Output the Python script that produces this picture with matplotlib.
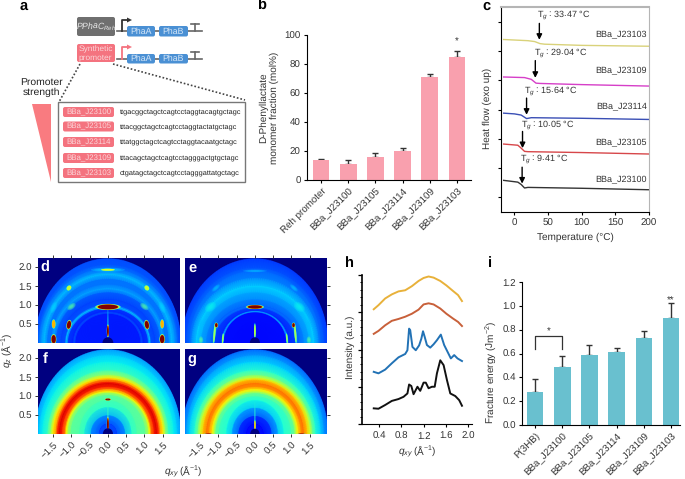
# -*- coding: utf-8 -*-
import numpy as np
import matplotlib
matplotlib.use("Agg")
import matplotlib.pyplot as plt
from matplotlib.patches import Ellipse, FancyBboxPatch, Polygon, Rectangle

plt.rcParams['font.family'] = ['Liberation Sans', 'DejaVu Sans']
plt.rcParams['text.hinting'] = 'no_hinting'
plt.rcParams['mathtext.fontset'] = 'custom'
plt.rcParams['mathtext.rm'] = 'Liberation Sans'
plt.rcParams['mathtext.it'] = 'Liberation Sans:italic'
plt.rcParams['mathtext.bf'] = 'Liberation Sans:bold'

# ---------- data ----------
promoters = ['BBa_J23100', 'BBa_J23105', 'BBa_J23114', 'BBa_J23109', 'BBa_J23103']
sequences = ['ttgacggctagctcagtcctaggtacagtgctagc',
             'tttacggctagctcagtcctaggtactatgctagc',
             'tttatggctagctcagtcctaggtacaatgctagc',
             'tttacagctagctcagtcctagggactgtgctagc',
             'ctgatagctagctcagtcctagggattatgctagc']

b_labels = ['Reh promoter'] + promoters
b_values = [14, 11, 16, 20, 71, 84.5]
b_errors = [0.5, 2.5, 2.5, 2, 2, 4.5]

i_labels = ['P(3HB)', 'BBa_J23100', 'BBa_J23105', 'BBa_J23114', 'BBa_J23109', 'BBa_J23103']
i_values = [0.28, 0.49, 0.59, 0.61, 0.73, 0.90]
i_errors = [0.11, 0.09, 0.08, 0.04, 0.06, 0.12]

# DSC curves
c_t103 = [-16, 20, 30, 38, 45, 100, 200]
c_y103 = [5.89, 5.85, 5.82, 5.75, 5.73, 5.69, 5.66]
c_t109 = [-16, 15, 25, 32, 38, 100, 200]
c_y109 = [4.61, 4.59, 4.53, 4.40, 4.39, 4.35, 4.30]
c_t114 = [-16, 0, 10, 18, 25, 100, 200]
c_y114 = [3.375, 3.35, 3.31, 3.19, 3.22, 3.20, 3.16]
c_t105 = [-16, 5, 10, 15, 20, 100, 200]
c_y105 = [2.32, 2.28, 2.18, 2.07, 2.06, 2.03, 1.98]
c_t100 = [-16, 5, 10, 15, 20, 100, 200]
c_y100 = [1.08, 1.02, 0.94, 0.82, 0.84, 0.81, 0.76]
tg_texts = ['33.47', '29.04', '15.64', '10.05', '9.41']
tg_text_x = [33.6, 28.6, 14.8, 9.4, 8.4]
tg_text_y = [6.73, 5.45, 4.15, 2.98, 1.81]
tg_arrow_x = [37, 31, 18, 12, 11.4]
tg_arrow_top = [6.44, 5.17, 3.89, 2.75, 1.53]
tg_arrow_tip = [5.88, 4.58, 3.32, 2.18, 0.97]
c_label_y = [6.06, 4.82, 3.58, 2.35, 1.10]

# GIWAXS line cuts
h_q_smooth = [.305, .39, .51, .63, .75, .87, .99, 1.11, 1.2, 1.29, 1.38, 1.5, 1.61, 1.73, 1.82, 1.89]
h_yellow = [3.08, 3.19, 3.37, 3.48, 3.56, 3.59, 3.70, 3.84, 3.92, 3.96, 3.93, 3.84, 3.72, 3.57, 3.46, 3.30]
h_red = [2.42, 2.50, 2.65, 2.77, 2.82, 2.88, 2.96, 3.07, 3.21, 3.24, 3.21, 3.10, 2.96, 2.83, 2.74, 2.63]
h_q_blue = [.305, .39, .51, .63, .75, .87, .91, .94, .96, 1.0, 1.06, 1.12, 1.16, 1.19, 1.22, 1.26, 1.32,
            1.38, 1.44, 1.51, 1.57, 1.63, 1.69, 1.75, 1.81, 1.89]
h_blue = [1.40, 1.36, 1.46, 1.63, 1.79, 1.88, 1.98, 2.56, 2.52, 2.07, 1.98, 2.11, 2.29, 2.49, 2.34, 2.12, 2.05,
          2.14, 2.25, 2.40, 2.12, 1.94, 1.76, 1.85, 1.76, 1.69]
h_q_black = [.305, .39, .51, .63, .75, .84, .91, .94, .98, 1.02, 1.09, 1.14, 1.2, 1.24, 1.29, 1.35, 1.4,
             1.44, 1.5, 1.56, 1.62, 1.68, 1.77, 1.84, 1.89]
h_black = [.42, .41, .51, .62, .67, .73, .82, 1.06, 1.02, .80, 1.0, .89, 1.11, 1.11, .96, 1.0, 1.0,
           1.36, 1.71, 1.58, 1.18, .82, .75, .64, .49]

# 2D patterns: ring half-widths along q_xy and q_z, with the colour-scale level of each ring
d_rx = [2.01, 1.99, 1.93, 1.88, 1.82, 1.74, 1.65, 1.56, 1.50, 1.42, 1.28, 1.17, 1.14, 1.08, .96, .92, .87, 0]
d_rz = [2.23, 2.21, 2.06, 1.95, 1.86, 1.80, 1.67, 1.54, 1.42, 1.32, 1.14, 1.00, .95, .90, .83, .79, .75, 0]
d_val = [0, .20, .21, .24, .27, .31, .24, .24, .29, .22, .19, .21, .33, .18, .16, .21, .15, .15]
e_rx = [2.01, 1.99, 1.88, 1.79, 1.74, 1.60, 1.47, 1.33, 1.19, 1.14, 1.10, .92, .88, .84, 0]
e_rz = [2.23, 2.21, 1.97, 1.89, 1.71, 1.49, 1.32, 1.14, .98, .95, .91, .84, .82, .79, 0]
e_val = [0, .18, .21, .23, .25, .33, .29, .26, .22, .24, .19, .16, .31, .14, .13]
f_rx = [2.01, 1.99, 1.88, 1.79, 1.65, 1.56, 1.50, 1.42, 1.38, 1.32, 1.25, 1.17, 1.14, 1.09, 1.01, .78, .64, .46, .23, 0]
f_rz = [2.23, 2.21, 2.06, 1.89, 1.67, 1.54, 1.47, 1.42, 1.36, 1.32, 1.23, 1.17, 1.11, 1.07, 1.01, .88, .70, .48, .26, 0]
f_val = [0, .28, .33, .36, .42, .55, .66, .76, .86, .92, .87, .76, .65, .55, .47, .44, .40, .29, .18, .22]
g_rx = [2.01, 1.99, 1.88, 1.79, 1.65, 1.56, 1.50, 1.42, 1.32, 1.25, 1.17, 1.12, 1.07, .98, .78, .62, .44, .22, 0]
g_rz = [2.23, 2.21, 2.06, 1.89, 1.67, 1.54, 1.47, 1.42, 1.32, 1.23, 1.17, 1.11, 1.06, .98, .88, .68, .46, .25, 0]
g_val = [0, .23, .28, .33, .40, .50, .60, .70, .79, .75, .66, .58, .48, .43, .38, .31, .19, .12, .16]

# bright spots: x, z, width, height, angle, level (x > 0 is mirrored)
d_spots = [(0, 1.93, .78, .09, 0, .33), (0, 1.93, .36, .05, 0, .62), (1.07, 1.45, .14, .11, -45, .58),
           (1.49, .94, .12, .27, 25, .33), (1.00, .96, .22, .12, -35, .45), (1.07, .48, .11, .21, 10, 1.0),
           (1.49, .50, .09, .21, 0, .72), (1.49, .10, .12, .22, 0, 1.0), (0, .50, .03, .80, 0, .36),
           (0, .95, .56, .13, 0, 1.0), (0, .32, .05, .28, 0, 1.0), (0, 0, .30, .30, 0, 0)]
e_spots = [(0, 1.90, .55, .06, 0, .31), (1.07, 1.45, .22, .09, -40, .31), (1.22, .95, .28, .18, -35, .36),
           (1.48, .45, .10, .35, 0, .31), (1.11, .26, .05, .50, 5, .55), (.88, .12, .04, .25, 5, .55),
           (1.06, .47, .07, .11, 0, 1.0), (1.48, .08, .10, .16, 0, .45), (0, .95, .40, .09, 0, 1.0),
           (0, .32, .04, .34, 0, .60), (0, 0, .28, .30, 0, 0)]
f_spots = [(0, .91, .14, .05, 0, 1.0), (0, .55, .03, .70, 0, .42), (0, .25, .05, .34, 0, 1.0),
           (0, 0, .28, .30, 0, 0)]
g_spots = [(0, .50, .03, .60, 0, .40), (0, .22, .04, .26, 0, .72), (0, 0, .26, .28, 0, 0),
           (1.28, .01, .18, .02, 0, .95)]

W, H = 685, 479
pink_bar = '#f9a0ae'
teal_bar = '#69c0cf'
ink = '#333333'

fig = plt.figure(figsize=(W / 100, H / 100), dpi=100)


def add_ax(x0, y0, x1, y1):
    return fig.add_axes([x0 / W, 1 - y1 / H, (x1 - x0) / W, (y1 - y0) / H])


# full-figure layer in pixel units for the schematic and the loose labels
bg = fig.add_axes([0, 0, 1, 1])
bg.set_xlim(0, W)
bg.set_ylim(H, 0)
bg.axis('off')

for txt, x, y, col in [('a', 24, 6, 'k'), ('b', 262, 6, 'k'), ('c', 486, 6, 'k'), ('h', 349, 263, 'k'), ('i', 490, 263, 'k')]:
    bg.text(x, y, txt, fontsize=10.5, fontweight='bold', color=col, ha='center', va='center')


def round_box(x0, y0, x1, y1, color, r=2):
    bg.add_patch(FancyBboxPatch((x0 + r, y0 + r), x1 - x0 - 2 * r, y1 - y0 - 2 * r,
                                boxstyle='round,pad=%g,rounding_size=%g' % (r, r), fc=color, ec='none'))


# ========== a: constructs ==========
round_box(77, 17, 115, 36, '#6f6f6f')
bg.text(96, 26.5, r'$\mathit{PPhaC}_{\mathit{Reh}}$', color='#e8e8e8', fontsize=6.2, ha='center', va='center')
round_box(77, 44, 115, 62, '#f4737f')
bg.text(95.5, 53, 'Synthetic\npromoter', color='#fbd5d8', fontsize=6, ha='center', va='center', linespacing=1.05)
for yy, top, col, by0, by1 in [(31, 20, '#333333', 26, 36.5), (59, 47, '#f4737f', 54, 63.5)]:
    bg.plot([117, 202], [yy, yy], color='#666666', lw=1.2, zorder=1)
    bg.plot([122, 122, 128], [yy, top, top], color=col, lw=1.3, zorder=2)
    bg.add_patch(Polygon([[127, top - 2.5], [132, top], [127, top + 2.5]], fc=col, ec='none'))
    bg.plot([195, 195], [yy, yy - 7], color='#666666', lw=1.2)
    bg.plot([191, 199], [yy - 7, yy - 7], color='#666666', lw=1.2)
    for bx0, bx1, name in [(127, 155, 'PhaA'), (159, 188, 'PhaB')]:
        round_box(bx0, by0, bx1, by1, '#4a90d4')
        bg.text((bx0 + bx1) / 2, (by0 + by1) / 2, name, color='#d5e6f7', fontsize=6.3, ha='center', va='center', zorder=3)

bg.plot([80, 59], [64, 102], color='#444444', lw=1.2, ls=(0, (1, 1.2)))
bg.plot([113, 245], [64, 100], color='#444444', lw=1.2, ls=(0, (1, 1.2)))
bg.add_patch(Rectangle((58.5, 102), 186.5, 80, fc='white', ec='#777777', lw=1))
bg.add_patch(Polygon([[32, 104], [51, 104], [51, 182]], fc='#f97b80', ec='none'))
bg.text(41, 87.5, 'Promoter\nstrength', fontsize=7.5, color='#222222', ha='center', va='center', linespacing=1.15)
for name, seq, yc in zip(promoters, sequences, [112, 126.5, 142, 158, 173]):
    round_box(63, yc - 5, 114, yc + 5, '#f4737f')
    bg.text(88.5, yc, name, color='#fbd5d8', fontsize=5.7, ha='center', va='center')
    bg.text(120, yc, seq, color='#222222', fontsize=5.3, ha='left', va='center')


# ========== b / i: bars ==========
def bar_panel(ax, labels, values, errors, color):
    x = np.arange(len(values))
    ax.bar(x, values, width=0.61, color=color, zorder=2)
    ax.errorbar(x, values, yerr=[np.zeros(len(errors)), errors], fmt='none', ecolor=ink,
                elinewidth=1, capsize=2.2, capthick=1, zorder=1)
    ax.set_xticks(x)
    ax.set_xticklabels(labels, rotation=45, ha='right', rotation_mode='anchor', fontsize=7, color=ink)
    ax.tick_params(axis='y', labelsize=7, labelcolor=ink, length=2.5, width=0.8, pad=2)
    ax.tick_params(axis='x', length=2.5, width=0.8, pad=2)
    ax.spines['top'].set_visible(False)
    ax.spines['right'].set_visible(False)


ax_b = add_ax(307, 35, 471, 180)
bar_panel(ax_b, b_labels, b_values, b_errors, pink_bar)
ax_b.set_xlim(-0.52, 5.52)
ax_b.set_ylim(0, 100)
ax_b.set_yticks(range(0, 101, 20))
ax_b.text(5, 92, '*', fontsize=7, ha='center', va='bottom', color=ink)
bg.text(269, 108, 'D-Phenyllactate\nmonomer fraction (mol%)', rotation=90, fontsize=7.2, color=ink,
        ha='center', va='center', linespacing=1.15)

ax_i = add_ax(522, 282, 680, 425)
bar_panel(ax_i, i_labels, i_values, i_errors, teal_bar)
ax_i.set_xlim(-0.48, 5.33)
ax_i.set_ylim(0, 1.2)
ax_i.set_yticks(np.arange(0, 1.21, 0.2))
ax_i.set_yticklabels(['%.1f' % v for v in np.arange(0, 1.21, 0.2)])
ax_i.plot([0, 0, 1, 1], [0.64, 0.75, 0.75, 0.64], color=ink, lw=0.9)
ax_i.text(0.5, 0.74, '*', fontsize=7, ha='center', va='bottom', color=ink)
ax_i.text(5, 1.00, '**', fontsize=7, ha='center', va='bottom', color=ink)
bg.text(491, 372, 'Fracture energy (Jm$^{-2}$)', rotation=90, fontsize=7.2, color=ink, ha='center', va='center')

# ========== c: DSC ==========
ax_c = add_ax(501, 7, 649, 212)
curves = [(c_t103, c_y103, '#d9d27a'), (c_t109, c_y109, '#d63fc8'), (c_t114, c_y114, '#3a4fb5'),
          (c_t105, c_y105, '#d7474a'), (c_t100, c_y100, '#333333')]
for t, y, col in curves:
    ax_c.plot(t, y, color=col, lw=1)
for name, yy in zip(promoters[::-1], c_label_y):
    ax_c.text(197, yy, name, fontsize=6.5, color=ink, ha='right', va='center')
for txt, tx, ty, ax_x, top, tip in zip(tg_texts, tg_text_x, tg_text_y, tg_arrow_x, tg_arrow_top, tg_arrow_tip):
    ax_c.text(tx, ty, 'T$_{g}$ : %s °C' % txt, fontsize=6.5, color=ink, ha='left', va='center')
    ax_c.annotate('', xy=(ax_x, tip), xytext=(ax_x, top),
                  arrowprops=dict(arrowstyle='-|>', color='k', lw=1, mutation_scale=8, shrinkA=0, shrinkB=0))
ax_c.set_xlim(-20, 200)
ax_c.set_ylim(0, 7)
ax_c.set_xticks(range(0, 201, 50))
ax_c.set_yticks(np.arange(0.5, 7, 1))
ax_c.set_yticklabels([])
ax_c.tick_params(axis='x', labelsize=7, labelcolor=ink, length=2.5, width=0.8, pad=2)
ax_c.tick_params(axis='y', length=2.5, width=0.8)
ax_c.spines['top'].set_color('#b5b5b5')
ax_c.spines['top'].set_linewidth(1.5)
ax_c.spines['right'].set_color('#b5b5b5')
ax_c.set_xlabel('Temperature (°C)', fontsize=7.2, color=ink, labelpad=4)
bg.text(487, 108, 'Heat flow (exo up)', rotation=90, fontsize=7.2, color=ink, ha='center', va='center')

# ========== h: line cuts ==========
ax_h = add_ax(362, 275, 472, 424)
ax_h.plot(h_q_smooth, h_yellow, color='#e8b13a', lw=1.4)
ax_h.plot(h_q_smooth, h_red, color='#c8603a', lw=1.4)
ax_h.plot(h_q_blue, h_blue, color='#2272b5', lw=1.4)
ax_h.plot(h_q_black, h_black, color='#111111', lw=1.4)
ax_h.set_xlim(0.094, 2.07)
ax_h.set_ylim(0, 4)
ax_h.set_xticks([0.4, 0.8, 1.2, 1.6, 2.0])
ax_h.set_yticks(range(0, 5))
ax_h.set_yticks(np.arange(0, 4.01, 0.2), minor=True)
ax_h.set_yticklabels([])
ax_h.tick_params(axis='x', labelsize=7, labelcolor=ink, length=2.5, width=0.8, pad=3)
ax_h.tick_params(axis='y', which='major', length=3, width=0.9)
ax_h.tick_params(axis='y', which='minor', length=1.5, width=0.7)
ax_h.spines['top'].set_visible(False)
ax_h.spines['right'].set_visible(False)
ax_h.spines['left'].set_linewidth(1.2)
bg.text(350, 347, 'Intensity (a.u.)', rotation=90, fontsize=7.2, color=ink, ha='center', va='center')
bg.text(417, 452, r'$\mathit{q}_{\mathit{xy}}$ (Å$^{-1}$)', fontsize=7.2, color=ink, ha='center', va='center')


# ========== d-g: 2D patterns ==========
def pattern(box, rx, rz, val, spots, floor, label, ticks_x, ticks_y, lab_x, lab_y):
    ax = add_ax(*box)
    cmap = plt.get_cmap('jet')
    ax.set_facecolor(cmap(0.0))
    theta = np.linspace(0, np.pi, 91)
    xx = np.outer(rx, np.cos(theta))
    zz = np.outer(rz, np.sin(theta))
    cc = np.repeat(np.array(val)[:, None], len(theta), axis=1)
    ax.pcolormesh(xx, zz, cc, shading='gouraud', cmap=cmap, vmin=0, vmax=1, zorder=1)
    for x, z, w, h, ang, lev in spots:
        for sgn in ([1, -1] if x > 0 else [1]):
            if lev == 0:
                ax.add_patch(Ellipse((sgn * x, z), w, h, angle=sgn * ang, fc=cmap(0.0), ec='none', zorder=2))
            elif lev < 0.5:
                # faint arcs: stacked see-through ellipses so they have no hard edge
                for scale in [1.2, 0.95, 0.7, 0.45]:
                    ax.add_patch(Ellipse((sgn * x, z), w * scale, h * scale, angle=sgn * ang, fc=cmap(lev),
                                         ec='none', alpha=0.3, zorder=2))
            else:
                for scale, frac in [(1.25, .45), (1.1, .7), (1, 1)]:
                    # halo never darker than the ring under it
                    col = cmap(max(lev * frac, min(floor, lev)))
                    ax.add_patch(Ellipse((sgn * x, z), w * scale, h * scale, angle=sgn * ang, fc=col, ec='none', zorder=2))
    ax.set_xlim(-1.92, 1.98)
    ax.set_ylim(0, 2.24)
    ax.set_xticks([-1.5, -1, -0.5, 0, 0.5, 1, 1.5])
    ax.set_yticks([0.5, 1, 1.5, 2])
    ax.tick_params(axis='x', bottom=ticks_x == 'bottom', top=ticks_x == 'top', labelbottom=lab_x,
                   length=2.5, width=0.7, color=ink, labelsize=7, labelcolor=ink, pad=2)
    ax.tick_params(axis='y', left=ticks_y == 'left', right=ticks_y == 'right', labelleft=lab_y,
                   length=2.5, width=0.7, color=ink, labelsize=7, labelcolor=ink, pad=2)
    if lab_x:
        ax.set_xticklabels(['\u22121.5', '\u22121.0', '\u22120.5', '0.0', '0.5', '1.0', '1.5'],
                           rotation=45, ha='right', rotation_mode='anchor')
    for s in ax.spines.values():
        s.set_visible(False)
    ax.text(0.05, 0.88, label, transform=ax.transAxes, color='white', fontsize=10.5, fontweight='bold',
            ha='center', va='center', zorder=5)


pattern((38, 258, 180, 343), d_rx, d_rz, d_val, d_spots, .24, 'd', 'top', 'left', False, True)
pattern((185, 258, 327, 343), e_rx, e_rz, e_val, e_spots, .24, 'e', 'top', 'right', False, False)
pattern((38, 349, 180, 434), f_rx, f_rz, f_val, f_spots, .38, 'f', 'bottom', 'left', True, True)
pattern((185, 349, 327, 434), g_rx, g_rz, g_val, g_spots, .34, 'g', 'bottom', 'right', True, False)
bg.text(7, 350, r'$\mathit{q}_{\mathit{z}}$ (Å$^{-1}$)', rotation=90, fontsize=7.2, color=ink, ha='center', va='center')
fig.text(183 / W, 1 - 472 / H, r'$\mathit{q}_{\mathit{xy}}$ (Å$^{-1}$)', fontsize=7.2, color=ink, ha='center', va='center')

plt.savefig('out.png', dpi=100)
